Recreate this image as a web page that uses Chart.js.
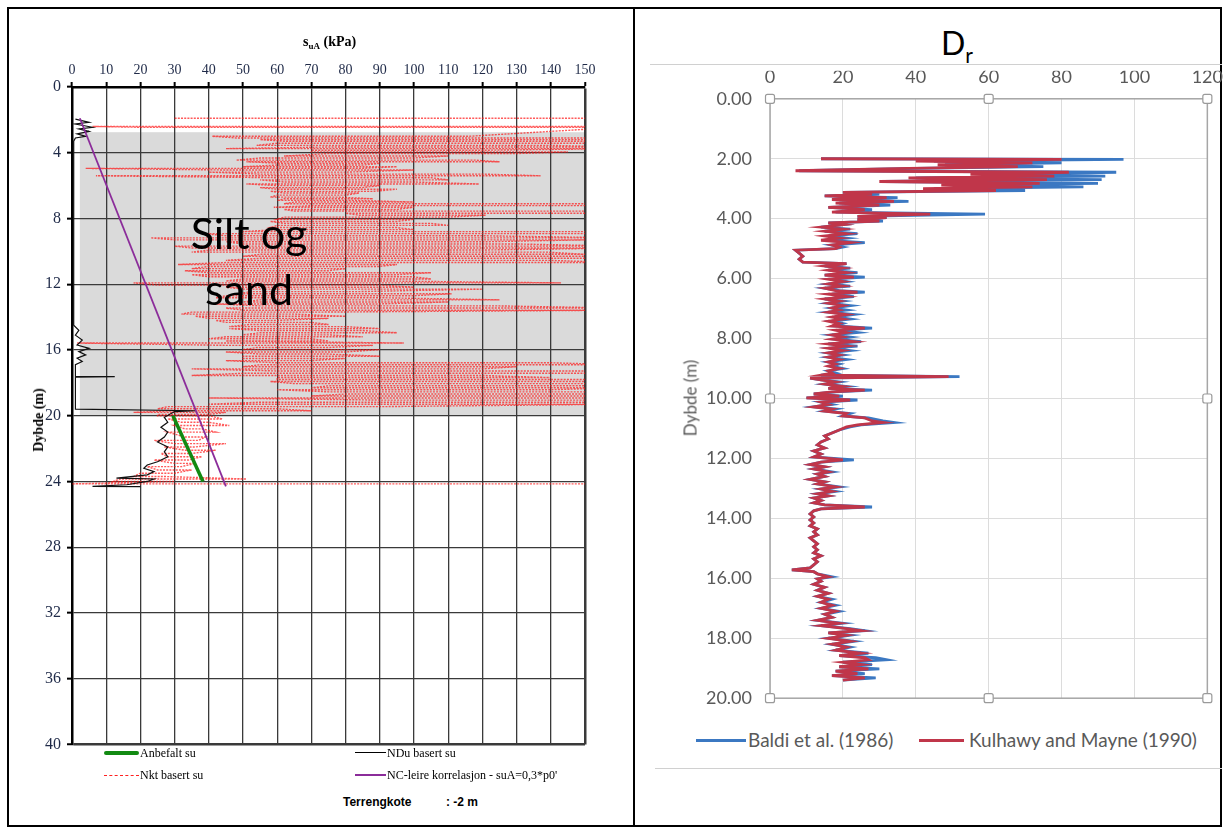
<!DOCTYPE html>
<html lang="no">
<head>
<meta charset="utf-8">
<title>suA og Dr</title>
<script src="https://cdn.jsdelivr.net/npm/chart.js@4.4.1/dist/chart.umd.min.js"></script>
<style>
  body { margin:0; background:#fff; }
  #side { position:relative; width:1228px; height:834px; overflow:hidden; }
  .abs { position:absolute; white-space:nowrap; }
  .serif { font-family:'Liberation Serif','Times New Roman',serif; color:#000; }
  .lato { font-family:Lato,'Open Sans',sans-serif; color:#595959; }
</style>
</head>
<body>
<div id="side">
  <!-- tabellramme -->
  <div class="abs" style="left:7px;top:7px;width:1215px;height:820px;border:2px solid #000;box-sizing:border-box"></div>
  <div class="abs" style="left:633px;top:7px;width:2px;height:820px;background:#000"></div>

  <!-- VENSTRE: suA -->
  <canvas id="suChart" class="abs" width="580" height="730" style="left:20px;top:30px;width:580px;height:730px"></canvas>
  <div class="abs serif" style="left:303px;top:34px;font-size:14px;font-weight:bold;line-height:16px">s<span style="font-size:9px;position:relative;top:3px">uA</span> (kPa)</div>
  <div class="abs serif" style="left:39px;top:420px;font-size:14px;font-weight:bold;transform:translate(-50%,-50%) rotate(-90deg)">Dybde (m)</div>
  <div class="abs" style="left:149px;top:205px;width:200px;text-align:center;font-family:Lato,sans-serif;font-size:43px;line-height:56px;color:#000;white-space:normal">Silt og<br>sand</div>

  <div class="abs" style="left:104px;top:751px;width:35px;height:4px;background:#128a12;border-radius:2px"></div>
  <div class="abs serif" style="left:140px;top:746px;font-size:12px;line-height:14px">Anbefalt su</div>
  <div class="abs" style="left:355px;top:752px;width:31px;height:1px;background:#000"></div>
  <div class="abs serif" style="left:387px;top:746px;font-size:12px;line-height:14px">NDu basert su</div>
  <div class="abs" style="left:104px;top:775px;width:35px;height:0;border-top:1px dashed #ff2020"></div>
  <div class="abs serif" style="left:140px;top:768px;font-size:12px;line-height:14px">Nkt basert su</div>
  <div class="abs" style="left:355px;top:774px;width:31px;height:2px;background:#8b2c9a"></div>
  <div class="abs serif" style="left:387px;top:768px;font-size:12px;line-height:14px">NC-leire korrelasjon - suA=0,3*p0'</div>
  <div class="abs" style="left:343px;top:795px;font-family:'Liberation Sans',Arial,sans-serif;font-weight:bold;font-size:12px;line-height:14px">Terrengkote</div>
  <div class="abs" style="left:446px;top:795px;font-family:'Liberation Sans',Arial,sans-serif;font-weight:bold;font-size:12px;line-height:14px">: -2 m</div>

  <!-- HØYRE: Dr -->
  <div class="abs" style="left:650px;top:64px;width:572px;height:1px;background:#d0d0d0"></div>
  <div class="abs" style="left:655px;top:768px;width:567px;height:1px;background:#d0d0d0"></div>
  <div class="abs" style="left:941px;top:24px;font-family:Lato,sans-serif;font-size:32px;line-height:38px;color:#000">D<span style="font-size:21px;position:relative;top:8px">r</span></div>
  <canvas id="drChart" class="abs" width="584" height="657" style="left:650px;top:70px;width:584px;height:657px"></canvas>
  <div class="abs lato" style="left:690px;top:398px;font-size:17px;transform:translate(-50%,-50%) rotate(-90deg)">Dybde (m)</div>

  <div class="abs" style="left:696px;top:739px;width:50px;height:3px;background:#3b78c2"></div>
  <div class="abs lato" style="left:748px;top:728px;font-size:19px;line-height:24px">Baldi et al. (1986)</div>
  <div class="abs" style="left:919px;top:739px;width:45px;height:3px;background:#c0364a"></div>
  <div class="abs lato" style="left:969px;top:728px;font-size:19px;line-height:24px">Kulhawy and Mayne (1990)</div>
</div>

<script>
/*VENSTRE DIAGRAM DATA*/
var suTicks = [0, 10, 20, 30, 40, 50, 60, 70, 80, 90, 100, 110, 120, 130, 140, 150];
var dybdeTicks = [0, 4, 8, 12, 16, 20, 24, 28, 32, 36, 40];

// grå sone: silt og sand
var soneDybde = [2.75, 20];
var soneSu = [2.3, 150];

// Nkt basert su (rød stiplet), to punkter per vannrett strek
var nktDybde = [1.9,1.9, 2.4,2.4, 2.45,2.45,
  3.0,3.0, 3.1,3.1, 3.2,3.2, 3.3,3.3, 3.42,3.42, 3.55,3.55, 3.65,3.65, 3.75,3.75, 3.85,3.85, 3.95,3.95,
  4.05,4.05, 4.2,4.2, 4.32,4.32, 4.45,4.45, 4.55,4.55, 4.65,4.65, 4.75,4.75, 4.85,4.85, 4.95,4.95, 5.05,5.05,
  5.18,5.18, 5.3,5.3, 5.4,5.4, 5.52,5.52, 5.65,5.65, 5.78,5.78, 5.9,5.9, 6.0,6.0, 6.12,6.12, 6.22,6.22,
  6.35,6.35, 6.45,6.45, 6.58,6.58, 6.7,6.7, 6.8,6.8, 6.9,6.9, 7.0,7.0, 7.1,7.1, 7.22,7.22, 7.32,7.32,
  7.45,7.45, 7.55,7.55, 7.68,7.68, 7.8,7.8, 7.92,7.92, 8.05,8.05, 8.18,8.18, 8.3,8.3, 8.42,8.42, 8.55,8.55,
  8.68,8.68, 8.8,8.8, 8.92,8.92, 9.05,9.05, 9.18,9.18, 9.3,9.3, 9.42,9.42, 9.55,9.55, 9.68,9.68, 9.8,9.8,
  9.92,9.92, 10.05,10.05, 10.18,10.18, 10.3,10.3, 10.42,10.42, 10.55,10.55, 10.68,10.68, 10.8,10.8, 10.92,10.92, 11.05,11.05,
  11.18,11.18, 11.3,11.3, 11.42,11.42, 11.55,11.55, 11.68,11.68, 11.8,11.8, 11.92,11.92, 12.05,12.05, 12.18,12.18, 12.3,12.3,
  12.45,12.45, 12.58,12.58, 12.7,12.7, 12.82,12.82, 12.95,12.95, 13.08,13.08, 13.2,13.2, 13.32,13.32, 13.45,13.45, 13.58,13.58,
  13.7,13.7, 13.82,13.82, 13.95,13.95, 14.08,14.08, 14.2,14.2, 14.32,14.32, 14.45,14.45, 14.58,14.58, 14.7,14.7, 14.82,14.82,
  14.95,14.95, 15.08,15.08, 15.2,15.2, 15.32,15.32, 15.45,15.45, 15.58,15.58, 15.72,15.72, 15.85,15.85, 15.98,15.98, 16.12,16.12,
  16.25,16.25, 16.38,16.38, 16.52,16.52, 16.65,16.65, 16.78,16.78, 16.9,16.9, 17.02,17.02, 17.15,17.15, 17.28,17.28, 17.42,17.42,
  17.55,17.55, 17.68,17.68, 17.8,17.8, 17.92,17.92, 18.05,18.05, 18.18,18.18, 18.3,18.3, 18.42,18.42, 18.55,18.55, 18.68,18.68,
  18.8,18.8, 18.92,18.92, 19.05,19.05, 19.18,19.18, 19.3,19.3, 19.45,19.45, 19.58,19.58, 19.7,19.7, 19.8,19.8, 19.92,19.92,
  20.0,20.0, 20.2,20.2, 20.4,20.4, 20.6,20.6, 20.8,20.8, 21.0,21.0, 21.3,21.3, 21.5,21.5, 21.7,21.7, 21.9,21.9,
  22.1,22.1, 22.3,22.3, 22.5,22.5, 22.7,22.7, 22.9,22.9, 23.1,23.1, 23.3,23.3, 23.5,23.5, 23.7,23.7, 23.85,23.85,
  24.0,24.0, 24.15,24.15];
var nktSu = [30,160, 160,6, 20,160,
  116,41, 48,160, 160,55, 62,160, 150,60, 54,140, 160,75, 45,160, 120,70, 70,145,
  130,75, 62,110, 100,55, 48,118, 125,51, 62,90, 85,60, 50,95, 85,4, 45,100,
  80,40, 55,120, 137,7, 60,105, 110,55, 62,100, 119,51, 60,90, 85,55, 60,95,
  88,58, 62,84, 80,60, 58,78, 88,62, 60,82, 100,65, 62,160, 160,70, 59,100,
  95,62, 65,160, 160,80, 84,121, 110,62, 60,100, 95,58, 62,105, 110,60, 58,95,
  100,60, 50,160, 160,38, 45,120, 160,23, 30,150, 120,45, 50,130, 160,30, 35,160,
  120,40, 35,139, 150,55, 50,160, 160,55, 45,140, 160,45, 31,95, 90,40, 35,80,
  75,33, 40,105, 95,35, 40,100, 105,50, 45,90, 143,18, 25,90, 100,45, 50,120,
  84,52, 49,111, 100,45, 42,90, 125,55, 50,110, 90,42, 55,125, 160,45, 50,160,
  70,35, 32,65, 80,36, 40,75, 60,42, 45,70, 75,52, 46,80, 90,46, 55,85,
  95,55, 50,75, 85,45, 40,70, 75,45, 97,1.5, 45,88, 75,54, 50,90, 80,45,
  55,75, 90,50, 50,80, 70,45, 60,140, 160,55, 50,130, 120,35, 60,160, 160,50,
  35,120, 140,60, 60,160, 160,58, 65,150, 160,75, 70,160, 140,60, 75,160, 160,80,
  70,160, 160,40, 90,160, 160,55, 40,160, 90,28, 25,60, 70,30, 18,45, 40,25,
  25,40, 44,28, 32,40, 46,30, 33,38, 42,28, 33,39, 37,24, 30,45, 36,27,
  33,42, 35,26, 28,38, 34,24, 30,36, 32,22, 25,35, 30,20, 18,27, 51,14,
  12,30, 0,160];

// NDu basert su (svart)
var nduDybde = [1.95, 2.15, 2.25, 2.45, 2.55, 2.7, 2.85, 3.0, 3.1, 3.3, 14.5, 14.8, 15.1, 15.4, 15.7, 15.9, 16.1, 16.3, 16.5, 16.7,
  16.9, 17.6, 17.62, 17.66, 19.6, 19.7, 19.75, 20.1, 20.4, 20.7, 21.0, 21.3, 21.6, 21.9, 22.2, 22.5, 22.8, 23.0, 23.2, 23.4,
  23.6, 23.8, 23.85, 24.0, 24.2, 24.3, 24.32];
var nduSu = [1, 5, 1, 6, 2, 5, 1.5, 4, 1, 0.5, 0.5, 2, 1, 3, 1.5, 5, 2, 4, 1.5, 3,
  1, 1, 12.5, 1, 1, 36, 30, 27, 28, 26, 28, 27, 25, 28, 27, 28, 25, 22, 21, 24,
  22, 13, 24, 22, 16, 6, 20];

// NC-leire korrelasjon og anbefalt su
var ncDybde = [1.9, 24.3];
var ncSu = [2.3, 45];
var anbDybde = [20.0, 24.0];
var anbSu = [29.5, 38.3];

/*HØYRE DIAGRAM DATA*/
var drTicksX = [0, 20, 40, 60, 80, 100, 120];
var drTicksY = [0, 2, 4, 6, 8, 10, 12, 14, 16, 18, 20];

var drDybde = [2.00,2.02,2.08,2.14,2.20,2.26,2.32,2.40,2.45,2.52,
  2.58,2.64,2.70,2.76,2.82,2.88,2.94,3.00,3.06,3.12,
  3.18,3.24,3.30,3.36,3.42,3.48,3.55,3.62,3.70,3.78,
  3.85,3.92,3.96,4.02,4.08,4.14,4.20,4.28,4.35,4.42,
  4.50,4.58,4.65,4.72,4.80,4.88,4.95,5.00,5.05,5.15,
  5.25,5.35,5.45,5.50,5.58,5.65,5.72,5.80,5.88,5.95,
  6.02,6.10,6.18,6.25,6.32,6.40,6.45,6.52,6.60,6.68,
  6.75,6.82,6.90,6.98,7.05,7.12,7.20,7.28,7.35,7.42,
  7.50,7.58,7.65,7.72,7.80,7.88,7.95,8.02,8.10,8.18,
  8.25,8.32,8.40,8.48,8.55,8.62,8.70,8.78,8.85,8.92,
  9.00,9.08,9.15,9.22,9.27,9.32,9.38,9.45,9.52,9.60,
  9.66,9.72,9.78,9.85,9.92,9.98,10.05,10.12,10.20,10.28,
  10.35,10.42,10.50,10.58,10.65,10.75,10.80,10.88,10.95,11.05,
  11.15,11.25,11.35,11.45,11.55,11.65,11.75,11.85,11.95,12.05,
  12.12,12.20,12.28,12.35,12.45,12.52,12.60,12.70,12.78,12.85,
  12.95,13.02,13.10,13.18,13.25,13.32,13.40,13.48,13.55,13.62,
  13.68,13.75,13.85,13.95,14.05,14.15,14.25,14.35,14.45,14.55,
  14.65,14.75,14.85,14.95,15.05,15.15,15.25,15.35,15.45,15.55,
  15.65,15.72,15.78,15.85,15.95,16.02,16.10,16.20,16.30,16.40,
  16.50,16.60,16.70,16.80,16.90,17.00,17.10,17.20,17.30,17.40,
  17.50,17.58,17.68,17.75,17.82,17.90,18.00,18.10,18.20,18.30,
  18.40,18.50,18.58,18.65,18.72,18.80,18.88,18.95,19.02,19.10,
  19.18,19.25,19.32,19.40];
var drBaldi = [14,97,45,80,48,75,40,8,95,60,
  92,40,91,31,90,50,86,45,70,20,
  30,15,35,17,38,19,33,16,28,18,
  59,24,32,24,31,16,20,14,22,15,
  24,16,21,15,26,17,20,18,7,8,
  9,8,9,21,15,22,16,24,15,26,
  17,21,16,22,15,19,26,17,23,15,
  20,16,22,17,21,16,23,18,22,17,
  20,18,28,19,24,17,22,18,25,16,
  24,17,22,16,20,16,21,16,19,17,
  20,16,18,14,52,11,14,19,15,21,
  16,28,18,12,20,10,24,14,17,12,
  18,15,22,20,27,31,34,25,22,19,
  17,15,16,14,13,15,12,14,12,23,
  14,11,15,12,17,13,15,11,15,13,
  19,14,18,13,16,12,14,12,15,28,
  14,12,11,12,11,12,11,13,12,13,
  11,12,13,12,13,12,14,12,13,12,
  11,6,12,13,17,13,14,12,15,13,
  16,13,17,14,18,14,19,15,17,13,
  20,14,22,26,16,22,16,23,17,22,
  18,27,19,29,32,20,28,19,30,18,
  26,17,29,20];
var drKulhawy = [14,80,40,72,46,68,38,7,82,55,
  78,38,76,30,74,47,72,42,62,20,
  28,15,32,17,34,18,30,16,26,17,
  44,24,32,24,30,16,20,14,20,15,
  21,15,19,14,22,17,19,18,7,8,
  9,8,9,21,15,20,16,21,15,23,
  16,20,16,20,15,18,24,16,21,15,
  19,16,20,17,19,16,21,17,20,16,
  19,17,26,18,21,17,20,17,23,16,
  21,16,20,16,19,16,19,16,18,16,
  19,16,17,14,49,11,14,18,15,20,
  16,26,17,12,19,10,22,14,16,12,
  17,15,21,20,26,28,31,24,21,19,
  17,15,16,14,13,15,12,14,12,20,
  14,11,15,12,16,13,15,11,15,13,
  18,14,17,13,16,12,14,12,15,26,
  14,12,11,12,11,12,11,13,12,13,
  11,12,13,12,13,12,14,12,13,12,
  11,6,12,13,16,13,14,12,15,13,
  16,13,16,14,17,14,18,15,17,13,
  19,14,21,25,16,21,16,22,17,21,
  18,25,19,26,27,20,25,19,27,18,
  24,17,26,20];

function punkter(xListe, yListe) {
  var ut = [];
  for (var i = 0; i < xListe.length; i++) {
    ut.push({x: xListe[i], y: yListe[i]});
  }
  return ut;
}

/*GRÅ SONE*/
var sonePlugin = {
  id: 'sone',
  beforeDraw: function (chart) {
    var xs = chart.scales.x, ys = chart.scales.y, ctx = chart.ctx;
    var x1 = xs.getPixelForValue(soneSu[0]), x2 = xs.getPixelForValue(soneSu[1]);
    var y1 = ys.getPixelForValue(soneDybde[0]), y2 = ys.getPixelForValue(soneDybde[1]);
    ctx.save();
    ctx.fillStyle = '#dadada';
    ctx.fillRect(x1, y1, x2 - x1, y2 - y1);
    ctx.restore();
  }
};

/*EXCEL RAMME MED HÅNDTAK*/
var rammePlugin = {
  id: 'ramme',
  afterDraw: function (chart) {
    var a = chart.chartArea, ctx = chart.ctx;
    var mx = (a.left + a.right) / 2, my = (a.top + a.bottom) / 2;
    ctx.save();
    ctx.strokeStyle = '#a6a6a6';
    ctx.lineWidth = 1.5;
    ctx.strokeRect(a.left, a.top, a.right - a.left, a.bottom - a.top);
    var hj = [[a.left, a.top], [mx, a.top], [a.right, a.top], [a.left, my], [a.right, my], [a.left, a.bottom], [mx, a.bottom], [a.right, a.bottom]];
    ctx.fillStyle = '#fff';
    ctx.lineWidth = 1.2;
    ctx.strokeStyle = '#9a9a9a';
    for (var i = 0; i < hj.length; i++) {
      ctx.beginPath();
      ctx.roundRect(hj[i][0] - 4.5, hj[i][1] - 4.5, 9, 9, 2);
      ctx.fill();
      ctx.stroke();
    }
    ctx.restore();
  }
};

var serif = "'Liberation Serif', 'Times New Roman', serif";

new Chart(document.getElementById('suChart'), {
  type: 'scatter',
  data: {
    datasets: [{
      label: 'Anbefalt su',
      data: punkter(anbSu, anbDybde),
      showLine: true, borderColor: '#128a12', borderWidth: 3.5, pointRadius: 0, order: 1
    }, {
      label: 'NC-leire korrelasjon - suA=0,3*p0\'',
      data: punkter(ncSu, ncDybde),
      showLine: true, borderColor: '#8b2c9a', borderWidth: 1.8, pointRadius: 0, order: 2
    }, {
      label: 'NDu basert su',
      data: punkter(nduSu, nduDybde),
      showLine: true, borderColor: '#111', borderWidth: 1.2, pointRadius: 0, order: 3
    }, {
      label: 'Nkt basert su',
      data: punkter(nktSu, nktDybde),
      showLine: true, borderColor: 'rgba(255,20,20,0.7)', borderWidth: 1.4, borderDash: [2, 1.2], pointRadius: 0, order: 4
    }]
  },
  options: {
    responsive: false,
    animation: false,
    devicePixelRatio: 1,
    layout: { padding: { top: 0, left: 0, right: 15, bottom: 7 } },
    plugins: { legend: { display: false }, tooltip: { enabled: false } },
    scales: {
      x: {
        type: 'linear', position: 'top', min: 0, max: 150,
        afterBuildTicks: function (s) { s.ticks = suTicks.map(function (v) { return {value: v}; }); },
        afterFit: function (s) { s.height = 57; },
        ticks: { autoSkip: false, padding: 3, color: '#1f2a48', font: { family: serif, size: 14 } },
        grid: {
          color: '#3a3a3a', tickColor: '#000', tickWidth: 2, tickLength: 5,
          lineWidth: function (c) { return c.tick && c.tick.value === 150 ? 2.5 : 1.3; }
        },
        border: { color: '#000', width: 2.5 }
      },
      y: {
        type: 'linear', reverse: true, min: 0, max: 40,
        afterBuildTicks: function (s) { s.ticks = dybdeTicks.map(function (v) { return {value: v}; }); },
        afterFit: function (s) { s.width = 52; },
        ticks: { autoSkip: false, padding: 6, color: '#1f2a48', font: { family: serif, size: 16 } },
        grid: {
          color: '#3a3a3a', tickColor: '#000', tickWidth: 2, tickLength: 5,
          lineWidth: function (c) { return c.tick && c.tick.value === 40 ? 2.5 : 1.3; }
        },
        border: { color: '#000', width: 2.5 }
      }
    }
  },
  plugins: [sonePlugin]
});

new Chart(document.getElementById('drChart'), {
  type: 'scatter',
  data: {
    datasets: [{
      label: 'Baldi et al. (1986)',
      data: punkter(drBaldi, drDybde),
      showLine: true, borderColor: '#3b78c2', borderWidth: 2.8, pointRadius: 0, order: 2
    }, {
      label: 'Kulhawy and Mayne (1990)',
      data: punkter(drKulhawy, drDybde),
      showLine: true, borderColor: '#c0364a', borderWidth: 2.8, pointRadius: 0, order: 1
    }]
  },
  options: {
    responsive: false,
    animation: false,
    devicePixelRatio: 1,
    layout: { padding: { top: 0, left: 0, right: 14, bottom: 12 } },
    plugins: { legend: { display: false }, tooltip: { enabled: false } },
    scales: {
      x: {
        type: 'linear', position: 'top', min: 0, max: 120,
        afterBuildTicks: function (s) { s.ticks = drTicksX.map(function (v) { return {value: v}; }); },
        afterFit: function (s) { s.height = 28; },
        ticks: { autoSkip: false, padding: 11, color: '#595959', font: { family: 'Lato', size: 18 } },
        grid: { color: '#dcdcdc', drawTicks: false, lineWidth: 1 },
        border: { display: false }
      },
      y: {
        type: 'linear', reverse: true, min: 0, max: 20,
        afterBuildTicks: function (s) { s.ticks = drTicksY.map(function (v) { return {value: v}; }); },
        afterFit: function (s) { s.width = 120; },
        ticks: {
          autoSkip: false, padding: 18, color: '#595959', font: { family: 'Lato', size: 18 },
          callback: function (v) { return Number(v).toFixed(2); }
        },
        grid: { color: '#dcdcdc', drawTicks: false, lineWidth: 1 },
        border: { display: false }
      }
    }
  },
  plugins: [rammePlugin]
});
</script>
</body>
</html>
